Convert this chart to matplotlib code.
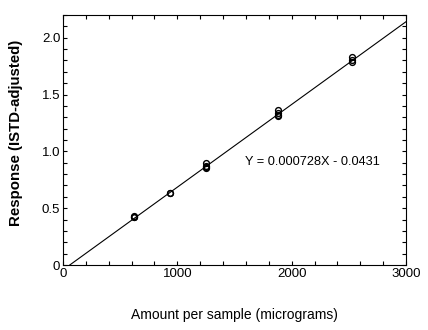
import numpy as np
import matplotlib
matplotlib.use("Agg")
import matplotlib.pyplot as plt
from matplotlib.ticker import MultipleLocator

plt.rcParams['font.family'] = ['Liberation Sans', 'DejaVu Sans']

# calibration standards (amount in micrograms, ISTD-adjusted response)
amount = [625, 625, 625, 940, 940, 1250, 1250, 1250, 1250,
          1880, 1880, 1880, 1880, 2530, 2530, 2530]
response = [0.42, 0.425, 0.43, 0.63, 0.635, 0.85, 0.86, 0.87, 0.90,
            1.31, 1.32, 1.34, 1.36, 1.79, 1.80, 1.83]

slope = 0.000728
intercept = -0.0431

fig = plt.figure(figsize=(4.28, 3.30), dpi=100)
ax = fig.add_axes([63 / 428, 65 / 330, 343 / 428, 250 / 330])

# regression line, clipped at zero response
x0 = -intercept / slope
xs = np.array([x0, 3000])
ax.plot(xs, slope * xs + intercept, color='black', lw=0.8)
ax.plot(amount, response, 'o', mfc='none', mec='black', ms=4.2, mew=1.0)

ax.text(1590, 0.91, "Y = 0.000728X - 0.0431", fontsize=9.2, va='center', ha='left')

ax.set_xlim(0, 3000)
ax.set_ylim(0, 2.2)
ax.xaxis.set_major_locator(MultipleLocator(1000))
ax.xaxis.set_minor_locator(MultipleLocator(200))
ax.yaxis.set_minor_locator(MultipleLocator(0.1))
ax.set_yticks([0, 0.5, 1.0, 1.5, 2.0])
ax.set_yticklabels(['0', '0.5', '1.0', '1.5', '2.0'])
ax.tick_params(which='both', direction='in', top=True, right=True,
               length=3, width=0.8, labelsize=9.5, pad=2)
for s in ax.spines.values():
    s.set_linewidth(0.8)

ax.set_xlabel("Amount per sample (micrograms)", fontsize=10, labelpad=20)
ax.set_ylabel("Response (ISTD-adjusted)", fontsize=10.8, fontweight='bold')
ax.yaxis.set_label_coords(-0.118, 0.53)

fig.savefig("out.png", dpi=100)
